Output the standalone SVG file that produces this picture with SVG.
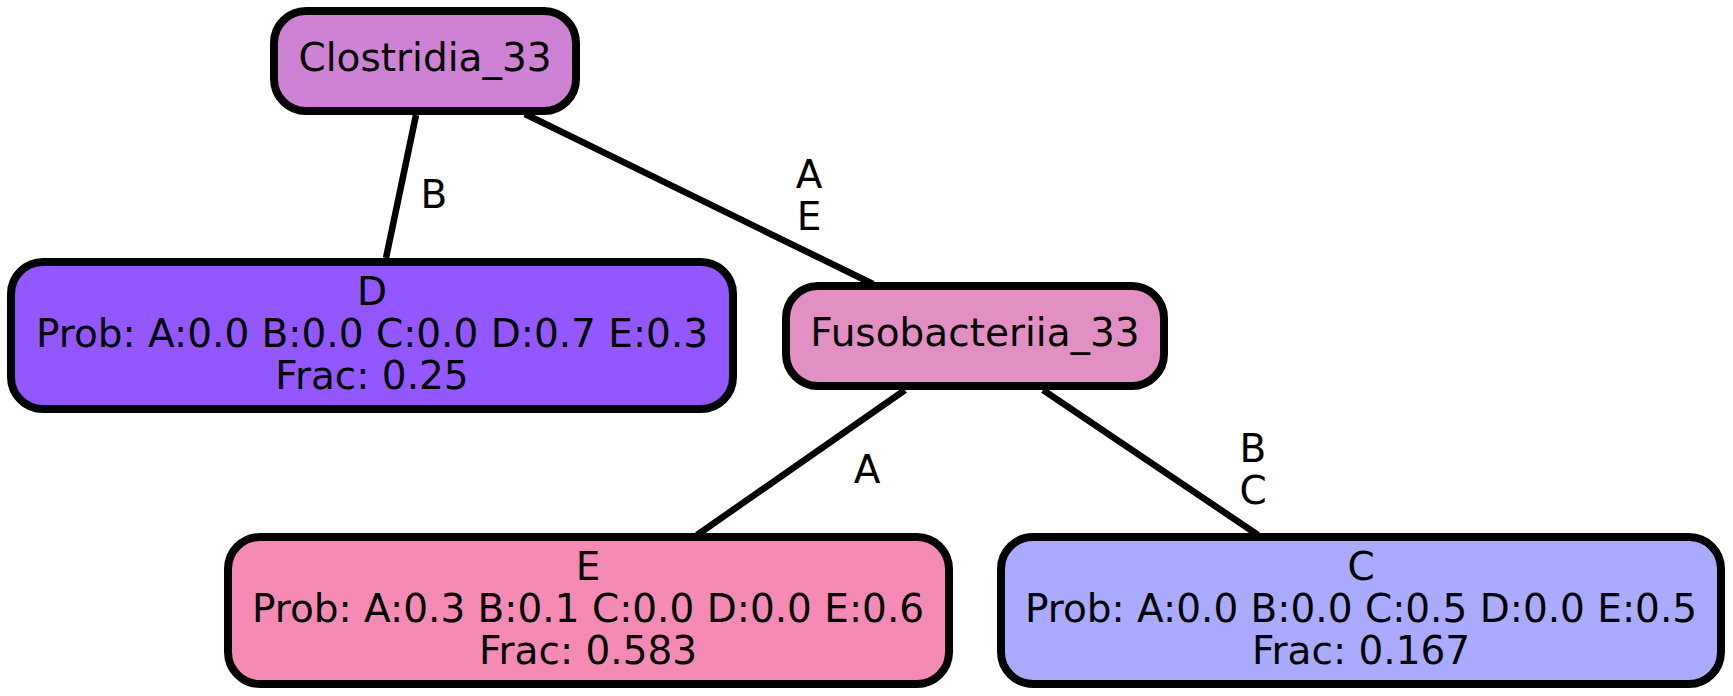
<svg xmlns="http://www.w3.org/2000/svg" width="1733" height="696" viewBox="0 0 1733 696">
<style>
.node rect{stroke:#000;stroke-width:8}
text{font-family:"DejaVu Sans","Liberation Sans",sans-serif;font-size:39px;fill:#000;text-anchor:middle}
.edges line{stroke:#000;stroke-width:6.5;stroke-linecap:butt}
</style>
<rect width="1733" height="696" fill="#fff"/>
<g class="edges" id="edges">
<line x1="416" y1="115" x2="386" y2="258"/>
<line x1="525" y1="114" x2="873" y2="284"/>
<line x1="905" y1="390" x2="697" y2="535"/>
<line x1="1043" y1="390" x2="1258" y2="535"/>
<text x="434" y="208">B</text>
<text x="809" y="188">A</text>
<text x="809" y="230">E</text>
<text x="867" y="483">A</text>
<text x="1253" y="462">B</text>
<text x="1253" y="504">C</text>
</g>
<g class="node" id="clostridia">
<rect x="274" y="11" width="302" height="100" rx="32" fill="#CE82D4"/>
<text x="425" y="71">Clostridia_33</text>
</g>
<g class="node" id="D">
<rect x="11" y="262" width="722" height="147" rx="32" fill="#9257FE"/>
<text x="372" y="305">D</text>
<text x="372" y="347">Prob: A:0.0 B:0.0 C:0.0 D:0.7 E:0.3</text>
<text x="372" y="389">Frac: 0.25</text>
</g>
<g class="node" id="fusobacteriia">
<rect x="786" y="286" width="378" height="100" rx="32" fill="#E290C3"/>
<text x="975" y="346">Fusobacteriia_33</text>
</g>
<g class="node" id="E">
<rect x="228" y="537" width="721" height="147" rx="32" fill="#F58BB4"/>
<text x="588" y="580">E</text>
<text x="588" y="622">Prob: A:0.3 B:0.1 C:0.0 D:0.0 E:0.6</text>
<text x="588" y="664">Frac: 0.583</text>
</g>
<g class="node" id="C">
<rect x="1001" y="537" width="720" height="147" rx="32" fill="#AAAAFE"/>
<text x="1361" y="580">C</text>
<text x="1361" y="622">Prob: A:0.0 B:0.0 C:0.5 D:0.0 E:0.5</text>
<text x="1361" y="664">Frac: 0.167</text>
</g>
</svg>
